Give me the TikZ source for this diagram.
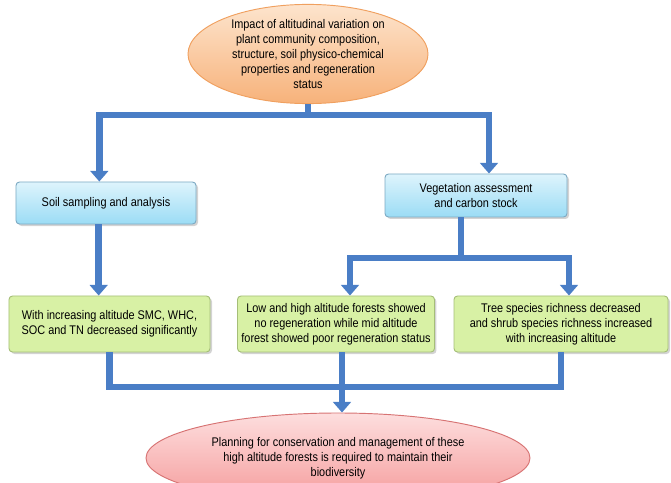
\documentclass[tikz,border=0pt]{standalone}
\usepackage{fontspec}
\setmainfont{Liberation Sans}[FakeStretch=0.87]
\usetikzlibrary{arrows.meta, positioning, shapes.geometric, shadows}
\definecolor{biruarus}{RGB}{74,126,198}
\definecolor{oranyegaris}{RGB}{240,160,95}
\definecolor{oranyeatas}{RGB}{253,228,205}
\definecolor{oranyebawah}{RGB}{247,178,122}
\definecolor{birugaris}{RGB}{125,170,195}
\definecolor{biruatas}{RGB}{222,244,252}
\definecolor{birubawah}{RGB}{155,220,245}
\definecolor{hijaugaris}{RGB}{165,190,120}
\definecolor{hijauisi}{RGB}{216,241,165}
\definecolor{merahgaris}{RGB}{215,115,115}
\definecolor{merahatas}{RGB}{253,222,222}
\definecolor{merahbawah}{RGB}{245,155,155}

\begin{document}
\begin{tikzpicture}[x=0.03cm, y=-0.03cm, font=\fontsize{10.7}{13}\selectfont,
    oval/.style={ellipse, line width=0.8pt, align=center, inner sep=0pt},
    kotak/.style={rectangle, rounded corners=3pt, line width=0.8pt, align=center,
                  drop shadow={shadow xshift=0.06cm, shadow yshift=-0.06cm, opacity=0.35}},
    kotakbiru/.style={kotak, draw=birugaris, top color=biruatas, bottom color=birubawah},
    kotakhijau/.style={kotak, draw=hijaugaris, fill=hijauisi, minimum height=1.68cm},
    flowline/.style={draw=biruarus, line width=5.5pt, line join=miter},
    flowarrow/.style={flowline, -{Triangle[length=9pt, width=15pt]}}]
    \useasboundingbox (0,0) rectangle (671,483);

    % ovals
    \node[oval, draw=oranyegaris, top color=oranyeatas, bottom color=oranyebawah,
          minimum width=7.2cm, minimum height=2.72cm] (impact) at (308,54)
          {Impact of altitudinal variation on\\plant community composition,\\structure, soil physico-chemical\\properties and regeneration\\status};
    \node[oval, draw=merahgaris, top color=merahatas, bottom color=merahbawah,
          minimum width=11.52cm, minimum height=2.7cm] (plan) at (338,458)
          {Planning for conservation and management of these\\high altitude forests is required to maintain their\\biodiversity};

    % boxes
    \node[kotakbiru, minimum width=5.4cm, minimum height=1.26cm] (soil) at (106,203) {Soil sampling and analysis};
    \node[kotakbiru, minimum width=5.46cm, minimum height=1.29cm] (veg) at (476,195.5) {Vegetation assessment\\and carbon stock};
    \node[kotakhijau, minimum width=6.03cm] (g1) at (109.5,324) {With increasing altitude SMC, WHC,\\SOC and TN decreased significantly};
    \node[kotakhijau, minimum width=5.88cm] (g2) at (336,324) {Low and high altitude forests showed\\no regeneration while mid altitude\\forest showed poor regeneration status};
    \node[kotakhijau, minimum width=6.42cm] (g3) at (561,324) {Tree species richness decreased\\and shrub species richness increased\\with increasing altitude};

    % connectors
    \coordinate (split1) at (308,115);
    \coordinate (split2) at (461,258);
    \coordinate (merge) at (342,387);
    \draw[flowarrow] (impact.south) -- (split1) -| ([xshift=-0.2cm]soil.north);
    \draw[flowarrow] (split1) -| ([xshift=0.39cm]veg.north);
    \draw[flowarrow] ([xshift=-0.22cm]soil.south) -- ([xshift=-0.22cm]soil.south |- g1.north);
    \draw[flowline] (split2 |- veg.south) -- (split2);
    \draw[flowarrow] (split2) -| ([xshift=0.42cm]g2.north);
    \draw[flowarrow] (split2) -| ([xshift=0.24cm]g3.north);
    \foreach \g in {g1,g3}
        \draw[flowline] (\g.south) |- (merge);
    \draw[flowarrow] (merge |- g2.south) -- (merge) -- (merge |- plan.north);
\end{tikzpicture}
\end{document}
